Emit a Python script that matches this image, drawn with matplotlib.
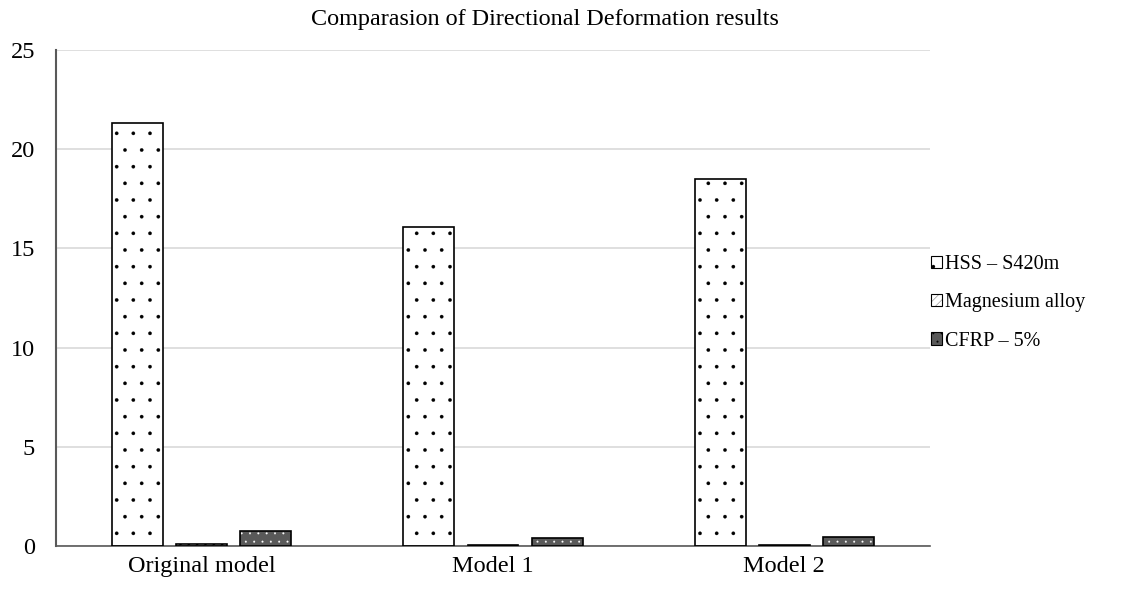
import matplotlib
matplotlib.use("Agg")
import matplotlib.pyplot as plt
import numpy as np
from matplotlib.patches import Patch

plt.rcParams['font.family'] = ['Liberation Serif', 'DejaVu Serif']

categories = ["Original model", "Model 1", "Model 2"]
series_names = ["HSS \u2013 S420m", "Magnesium alloy", "CFRP \u2013 5%"]
hss = [21.3, 16.1, 18.5]
magnesium = [0.1, 0.05, 0.06]
cfrp = [0.77, 0.42, 0.45]
yticks = [0, 5, 10, 15, 20, 25]

W, H = 1137, 589
fig = plt.figure(figsize=(W / 100, H / 100), dpi=100)
ax = fig.add_axes([56 / W, 1 - 546 / H, 874 / W, 496 / H])

x = np.arange(len(categories))
w = 0.175
step = 0.22

styles = [
    dict(face="white", hatch_col="black", hatch=".", hlw=0.2),
    dict(face="white", hatch_col="black", hatch="////", hlw=1.2),
    dict(face="#595959", hatch_col="white", hatch="..", hlw=0.2),
]

handles = []
for i, (vals, st) in enumerate(zip([hss, magnesium, cfrp], styles)):
    plt.rcParams['hatch.linewidth'] = st["hlw"]
    pos = x + (i - 1) * step
    # hatched fill
    ax.bar(pos, vals, width=w, color=st["face"], edgecolor=st["hatch_col"],
           hatch=st["hatch"], linewidth=0, zorder=2)
    # outline
    ax.bar(pos, vals, width=w, fill=False, edgecolor="black", linewidth=1.2, zorder=3)
    handles.append(Patch(facecolor=st["face"], edgecolor="black", hatch=st["hatch"],
                         linewidth=0.8))

ax.set_xlim(-0.5, 2.5)
ax.set_ylim(0, 25)
ax.set_yticks(yticks)
ax.set_xticks(x)
ax.set_xticklabels(categories)
ax.tick_params(axis='both', length=0, labelsize=17.5, colors="black")
ax.tick_params(axis='x', pad=7)
ax.tick_params(axis='y', pad=15)
ax.grid(axis='y', color="#d9d9d9", linewidth=1.2, zorder=0)
ax.set_axisbelow(True)
for s in ["top", "right"]:
    ax.spines[s].set_visible(False)
ax.spines["left"].set_color("#595959")
ax.spines["left"].set_linewidth(1.5)
ax.spines["bottom"].set_color("#595959")
ax.spines["bottom"].set_linewidth(1.2)

fig.text(545 / W, 1 - 20 / H, "Comparasion of Directional Deformation results",
         fontsize=17.4, ha="center", va="center")

leg = ax.legend(handles, series_names, loc="center left",
                bbox_to_anchor=(1.0 - 5 / 874, 0.49),
                frameon=False, fontsize=14.5, handlelength=0.55, handleheight=0.55,
                handletextpad=0.15, labelspacing=0.95, borderaxespad=0.0,
                borderpad=0.3)

fig.savefig("out.png", dpi=100)
